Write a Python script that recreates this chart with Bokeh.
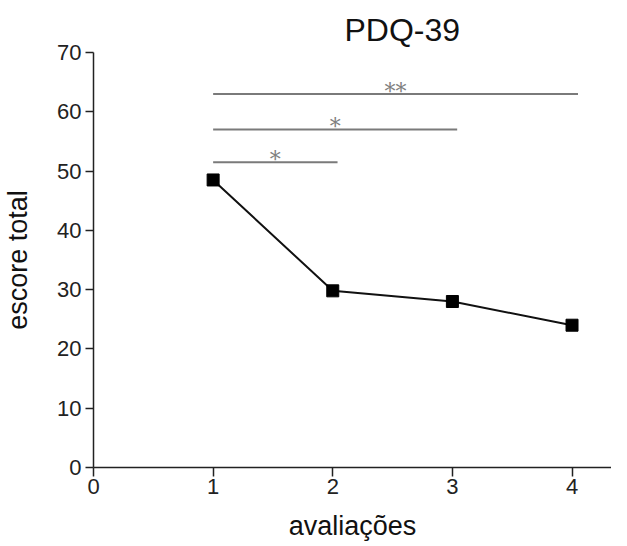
from bokeh.plotting import figure
from bokeh.models import ColumnDataSource, Range1d, FixedTicker
from bokeh.embed import file_html
from bokeh.resources import INLINE
from bokeh.core.properties import value

# Data
avaliacoes = [1, 2, 3, 4]
escore_total = [48.5, 29.8, 28.0, 24.0]

sig_start = [1.0, 1.0, 1.0]
sig_end = [2.04, 3.04, 4.05]
sig_level = [51.5, 57.0, 63.0]
sig_text = ["*", "*", "**"]

x_ticks = [0, 1, 2, 3, 4]
y_ticks = [0, 10, 20, 30, 40, 50, 60, 70]

p = figure(width=611, height=543, output_backend="svg", toolbar_location=None,
           x_range=Range1d(0, 4.33), y_range=Range1d(0, 70),
           min_border_left=92, min_border_right=0, min_border_top=52, min_border_bottom=75)

p.title.text = "PDQ-39"
p.title.text_font = "Liberation Sans"
p.title.text_font_size = "32px"
p.title.text_font_style = "normal"
p.title.text_color = "#111111"
p.title.align = "left"
p.title.offset = 251

p.xgrid.visible = False
p.ygrid.visible = False
p.outline_line_color = None
p.background_fill_color = "white"
p.border_fill_color = "white"

for ax in (p.xaxis[0], p.yaxis[0]):
    ax.axis_line_color = "#222222"
    ax.axis_line_width = 1.5
    ax.major_tick_line_color = "#222222"
    ax.major_tick_line_width = 1.5
    ax.major_tick_in = 0
    ax.minor_tick_line_color = None
    ax.major_label_text_font = "Liberation Sans"
    ax.major_label_text_font_size = "22px"
    ax.major_label_text_color = "#222222"
    ax.axis_label_text_font = "Liberation Sans"
    ax.axis_label_text_font_size = "27px"
    ax.axis_label_text_font_style = "normal"
    ax.axis_label_text_color = "#111111"

p.xaxis.ticker = FixedTicker(ticks=x_ticks)
p.yaxis.ticker = FixedTicker(ticks=y_ticks)
p.xaxis.major_tick_out = 9
p.yaxis.major_tick_out = 8
p.xaxis.major_label_standoff = 2
p.yaxis.major_label_standoff = 4
p.xaxis.axis_label = "avaliações"
p.yaxis.axis_label = "escore total"
p.xaxis.axis_label_standoff = 14
p.yaxis.axis_label_standoff = 21

# significance bars
sig_mid = [(a + b) / 2 for a, b in zip(sig_start, sig_end)]
sig_src = ColumnDataSource(dict(x0=sig_start, x1=sig_end, y=sig_level, mid=sig_mid, t=sig_text))
p.segment(x0="x0", y0="y", x1="x1", y1="y", source=sig_src, line_color="#7a7a7a", line_width=2)
p.text(x="mid", y="y", text="t", source=sig_src, text_font=value("DejaVu Serif"),
       text_font_size="22px", text_color="#808080", text_align="center",
       text_baseline="middle", y_offset=-3)

# data
src = ColumnDataSource(dict(x=avaliacoes, y=escore_total))
p.line(x="x", y="y", source=src, line_color="#111111", line_width=2)
p.scatter(x="x", y="y", source=src, marker="square", size=12, fill_color="#000000", line_color="#000000")

open("out.html", "w").write(file_html(p, INLINE))
